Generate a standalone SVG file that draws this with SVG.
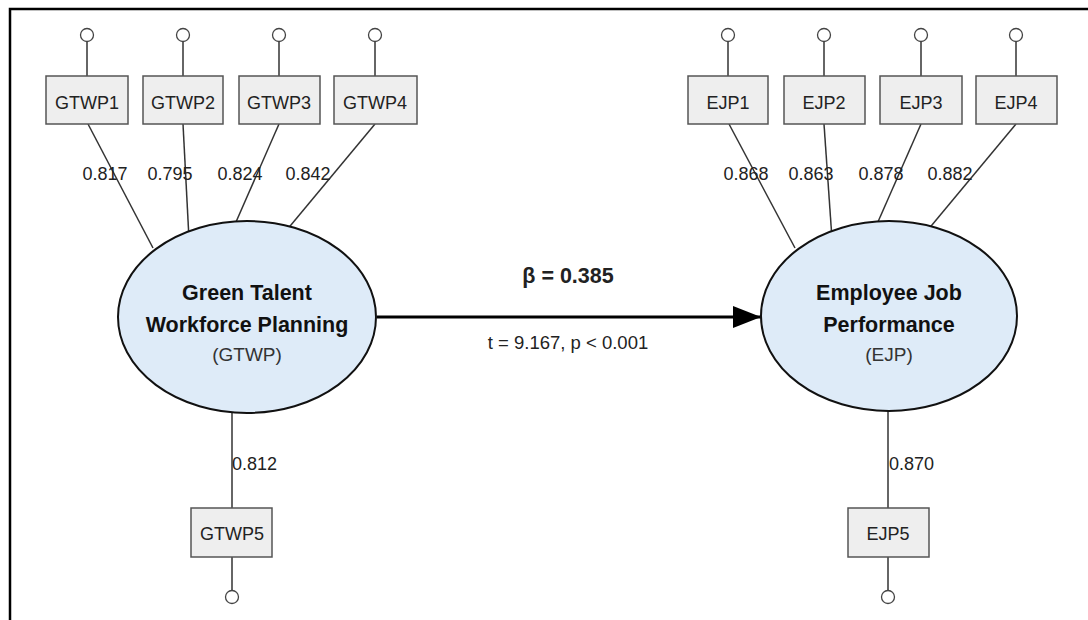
<svg xmlns="http://www.w3.org/2000/svg" width="1088" height="620" viewBox="0 0 1088 620">
<defs>
<style>
.frame{fill:none;stroke:#000;stroke-width:2.5}
.box{fill:#eeeeee;stroke:#555;stroke-width:1.5}
.err{fill:#fff;stroke:#444;stroke-width:1.3}
.lat{fill:#deebf8;stroke:#111;stroke-width:2}
.ln{stroke:#333;stroke-width:1.5;fill:none}
.t{font-family:"Liberation Sans",Arial,sans-serif;fill:#222}
.ind{font-size:18px;text-anchor:middle}
.ld{font-size:18px;text-anchor:middle}
.ltitle{font-size:21.5px;font-weight:bold;text-anchor:middle;fill:#111}
.lsub{font-size:19px;text-anchor:middle;fill:#333}
</style>
<marker id="ah" viewBox="0 0 28 22" refX="28" refY="11" markerWidth="28" markerHeight="22" markerUnits="userSpaceOnUse" orient="auto">
<path d="M0,0 L28,11 L0,22 z" fill="#000"/>
</marker>
</defs>
<rect width="1088" height="620" fill="#fff"/>
<path class="frame" d="M10,620 V9 H1088"/>

<g id="connectors">
<line class="ln" x1="87" y1="41" x2="87" y2="76"/>
<line class="ln" x1="183" y1="41" x2="183" y2="76"/>
<line class="ln" x1="279" y1="41" x2="279" y2="76"/>
<line class="ln" x1="375" y1="41" x2="375" y2="76"/>
<line class="ln" x1="728" y1="41" x2="728" y2="76"/>
<line class="ln" x1="824" y1="41" x2="824" y2="76"/>
<line class="ln" x1="921" y1="41" x2="921" y2="76"/>
<line class="ln" x1="1016" y1="41" x2="1016" y2="76"/>
<line class="ln" x1="88" y1="124" x2="153" y2="248"/>
<line class="ln" x1="183" y1="124" x2="189" y2="239"/>
<line class="ln" x1="279" y1="124" x2="229" y2="238"/>
<line class="ln" x1="375" y1="124" x2="271" y2="249"/>
<line class="ln" x1="729" y1="124" x2="795" y2="248"/>
<line class="ln" x1="824" y1="124" x2="832" y2="239"/>
<line class="ln" x1="921" y1="124" x2="870" y2="240"/>
<line class="ln" x1="1016" y1="124" x2="912" y2="249"/>
<line class="ln" x1="232" y1="412" x2="232" y2="508"/>
<line class="ln" x1="232" y1="557" x2="232" y2="591"/>
<line class="ln" x1="888" y1="410" x2="888" y2="508"/>
<line class="ln" x1="888" y1="557" x2="888" y2="591"/>
<line x1="377" y1="317" x2="761" y2="317" stroke="#000" stroke-width="3" marker-end="url(#ah)"/>
</g>

<g id="labels">
<text class="t ld" x="105" y="180">0.817</text>
<text class="t ld" x="170" y="180">0.795</text>
<text class="t ld" x="240" y="180">0.824</text>
<text class="t ld" x="308" y="180">0.842</text>
<text class="t ld" x="746" y="180">0.868</text>
<text class="t ld" x="811" y="180">0.863</text>
<text class="t ld" x="881" y="180">0.878</text>
<text class="t ld" x="950" y="180">0.882</text>
<text class="t" x="232" y="470" font-size="18">0.812</text>
<text class="t" x="889" y="470" font-size="18">0.870</text>
<text class="t" x="568" y="283" font-size="21.5" font-weight="bold" text-anchor="middle" fill="#111">β = 0.385</text>
<text class="t" x="568" y="349" font-size="18.5" text-anchor="middle">t = 9.167, p &lt; 0.001</text>
</g>

<g id="GTWP">
<ellipse class="lat" cx="247" cy="317" rx="129" ry="96"/>
<text class="t ltitle" x="247" y="300">Green Talent</text>
<text class="t ltitle" x="247" y="332">Workforce Planning</text>
<text class="t lsub" x="247" y="361">(GTWP)</text>
</g>
<g id="EJP">
<ellipse class="lat" cx="889" cy="316" rx="128" ry="95"/>
<text class="t ltitle" x="889" y="300">Employee Job</text>
<text class="t ltitle" x="889" y="332">Performance</text>
<text class="t lsub" x="889" y="361">(EJP)</text>
</g>

<g id="GTWP1"><rect class="box" x="46" y="76" width="82" height="48"/><text class="t ind" x="87" y="109">GTWP1</text><circle class="err" cx="87" cy="35" r="6.5"/></g>
<g id="GTWP2"><rect class="box" x="143" y="76" width="80" height="48"/><text class="t ind" x="183" y="109">GTWP2</text><circle class="err" cx="183" cy="35" r="6.5"/></g>
<g id="GTWP3"><rect class="box" x="239" y="76" width="81" height="48"/><text class="t ind" x="279" y="109">GTWP3</text><circle class="err" cx="279" cy="35" r="6.5"/></g>
<g id="GTWP4"><rect class="box" x="334" y="76" width="83" height="48"/><text class="t ind" x="375" y="109">GTWP4</text><circle class="err" cx="375" cy="35" r="6.5"/></g>
<g id="GTWP5"><rect class="box" x="191" y="508" width="81" height="49"/><text class="t ind" x="232" y="540">GTWP5</text><circle class="err" cx="232" cy="597" r="6.5"/></g>

<g id="EJP1"><rect class="box" x="688" y="76" width="80" height="48"/><text class="t ind" x="728" y="109">EJP1</text><circle class="err" cx="728" cy="35" r="6.5"/></g>
<g id="EJP2"><rect class="box" x="784" y="76" width="81" height="48"/><text class="t ind" x="824" y="109">EJP2</text><circle class="err" cx="824" cy="35" r="6.5"/></g>
<g id="EJP3"><rect class="box" x="880" y="76" width="82" height="48"/><text class="t ind" x="921" y="109">EJP3</text><circle class="err" cx="921" cy="35" r="6.5"/></g>
<g id="EJP4"><rect class="box" x="976" y="76" width="81" height="48"/><text class="t ind" x="1016" y="109">EJP4</text><circle class="err" cx="1016" cy="35" r="6.5"/></g>
<g id="EJP5"><rect class="box" x="848" y="508" width="81" height="49"/><text class="t ind" x="888" y="540">EJP5</text><circle class="err" cx="888" cy="597" r="6.5"/></g>
</svg>
